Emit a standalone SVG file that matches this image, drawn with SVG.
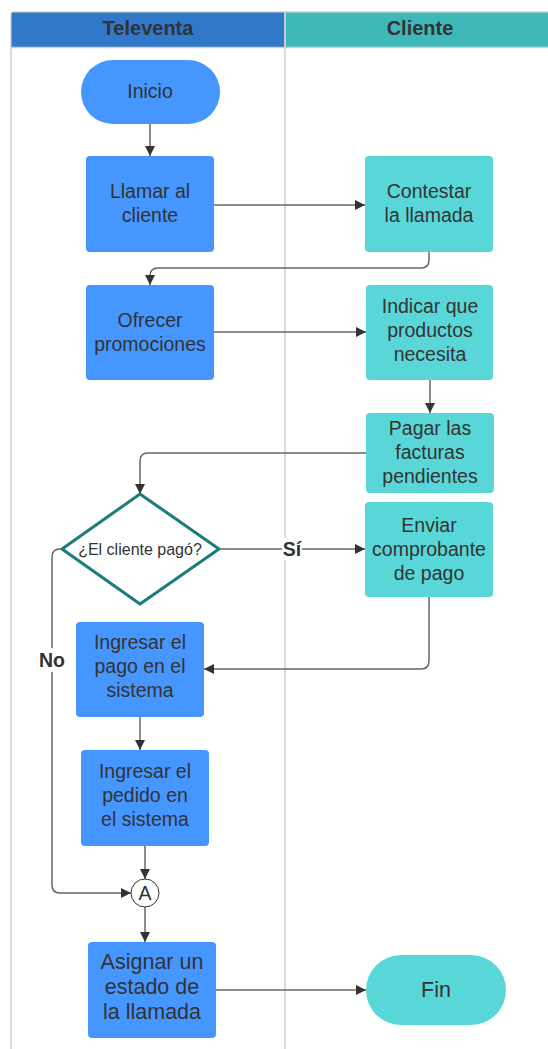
<svg xmlns="http://www.w3.org/2000/svg" width="548" height="1049" viewBox="0 0 548 1049">
  <style>
    .lane { stroke: #cfcfcf; stroke-width: 1.5; fill: none; }
    .hdr { font-family: "Liberation Sans", Arial, sans-serif; font-weight: bold; font-size: 20px; fill: #333333; text-anchor: middle; }
    .blue { fill: #4596FF; }
    .teal { fill: #59D7D8; }
    .t { font-family: "Liberation Sans", Arial, sans-serif; font-size: 19.5px; fill: #333333; text-anchor: middle; }
    .big { font-size: 21.5px; }
    .small { font-family: "Liberation Sans", Arial, sans-serif; font-size: 16px; fill: #333333; text-anchor: middle; }
    .lbl { font-family: "Liberation Sans", Arial, sans-serif; font-weight: bold; font-size: 19.5px; fill: #333333; text-anchor: middle; }
    .edge { fill: none; stroke: #666666; stroke-width: 1.5; marker-end: url(#arrow); }
  </style>
  <defs>
    <marker id="arrow" viewBox="0 0 10 10" refX="10" refY="5" markerWidth="10" markerHeight="10" markerUnits="userSpaceOnUse" orient="auto">
      <path d="M0,0 L10,5 L0,10 z" fill="#333333"/>
    </marker>
  </defs>

  <rect width="548" height="1049" fill="#ffffff"/>

  <!-- pool and lanes -->
  <g id="pool">
    <path d="M11,1049 V17 Q11,12 16,12 H548" class="lane"/>
    <rect x="11.5" y="12.5" width="273" height="35" fill="#3278C9"/>
    <rect x="285.5" y="12.5" width="263" height="35" fill="#3FB8B9"/>
    <line x1="11" y1="47.5" x2="548" y2="47.5" stroke="#cfcfcf" stroke-width="1.5"/>
    <line x1="285" y1="12" x2="285" y2="1049" class="lane"/>
    <text x="148" y="35" class="hdr">Televenta</text>
    <text x="420" y="35" class="hdr">Cliente</text>
  </g>

  <!-- connectors -->
  <g id="connectors">
    <path d="M150,124 V156" class="edge"/>
    <path d="M214,205 H365" class="edge"/>
    <path d="M429,252 V260 Q429,268 421,268 H158 Q150,268 150,276 V285" class="edge"/>
    <path d="M214,332 H366" class="edge"/>
    <path d="M430,380 V413" class="edge"/>
    <path d="M366,453 H148 Q140,453 140,461 V494" class="edge"/>
    <path d="M220,549 H365" class="edge"/>
    <path d="M429,597 V661 Q429,669 421,669 H204" class="edge"/>
    <path d="M62,549 H60 Q52,549 52,557 V885 Q52,893 60,893 H131" class="edge"/>
    <path d="M140,717 V750" class="edge"/>
    <path d="M145,846 V879" class="edge"/>
    <path d="M145,907 V942" class="edge"/>
    <path d="M216,990 H366" class="edge"/>
    <rect x="282" y="538" width="20" height="22" fill="#ffffff"/>
    <text x="292" y="556" class="lbl">Sí</text>
    <rect x="37" y="648" width="30" height="24" fill="#ffffff"/>
    <text x="52" y="667" class="lbl">No</text>
  </g>

  <g id="inicio">
    <rect x="81" y="60" width="139" height="64" rx="32" class="blue"/>
    <text x="150" y="98" class="t">Inicio</text>
  </g>

  <g id="llamar">
    <rect x="86" y="156" width="128" height="96" rx="4" class="blue"/>
    <text x="150" y="198" class="t">Llamar al</text>
    <text x="150" y="222" class="t">cliente</text>
  </g>

  <g id="contestar">
    <rect x="365" y="156" width="128" height="96" rx="4" class="teal"/>
    <text x="429" y="198" class="t">Contestar</text>
    <text x="429" y="222" class="t">la llamada</text>
  </g>

  <g id="ofrecer">
    <rect x="86" y="285" width="128" height="95" rx="4" class="blue"/>
    <text x="150" y="327" class="t">Ofrecer</text>
    <text x="150" y="351" class="t">promociones</text>
  </g>

  <g id="indicar">
    <rect x="366" y="285" width="127" height="95" rx="4" class="teal"/>
    <text x="430" y="313" class="t">Indicar que</text>
    <text x="430" y="337" class="t">productos</text>
    <text x="430" y="361" class="t">necesita</text>
  </g>

  <g id="pagar">
    <rect x="366" y="413" width="128" height="80" rx="4" class="teal"/>
    <text x="430" y="435" class="t">Pagar las</text>
    <text x="430" y="459" class="t">facturas</text>
    <text x="430" y="483" class="t">pendientes</text>
  </g>

  <g id="decision">
    <polygon points="140,494 219,549 140,604 62,549" fill="#ffffff" stroke="#1E7B7B" stroke-width="3" stroke-linejoin="round"/>
    <text x="140" y="555" class="small">¿El cliente pagó?</text>
  </g>

  <g id="enviar">
    <rect x="365" y="502" width="128" height="95" rx="4" class="teal"/>
    <text x="429" y="532" class="t">Enviar</text>
    <text x="429" y="556" class="t">comprobante</text>
    <text x="429" y="580" class="t">de pago</text>
  </g>

  <g id="ingresar-pago">
    <rect x="76" y="622" width="128" height="95" rx="4" class="blue"/>
    <text x="140" y="649" class="t">Ingresar el</text>
    <text x="140" y="673" class="t">pago en el</text>
    <text x="140" y="697" class="t">sistema</text>
  </g>

  <g id="ingresar-pedido">
    <rect x="81" y="750" width="128" height="96" rx="4" class="blue"/>
    <text x="145" y="778" class="t">Ingresar el</text>
    <text x="145" y="802" class="t">pedido en</text>
    <text x="145" y="826" class="t">el sistema</text>
  </g>

  <g id="conector-a">
    <circle cx="145" cy="893" r="14" fill="#ffffff" stroke="#333333" stroke-width="1"/>
    <text x="145" y="900" class="t">A</text>
  </g>

  <g id="asignar">
    <rect x="88" y="942" width="128" height="96" rx="4" class="blue"/>
    <text x="152" y="969" class="t big">Asignar un</text>
    <text x="152" y="994" class="t big">estado de</text>
    <text x="152" y="1019" class="t big">la llamada</text>
  </g>

  <g id="fin">
    <rect x="366" y="955" width="140" height="70" rx="35" class="teal"/>
    <text x="436" y="997" class="t big">Fin</text>
  </g>
</svg>
